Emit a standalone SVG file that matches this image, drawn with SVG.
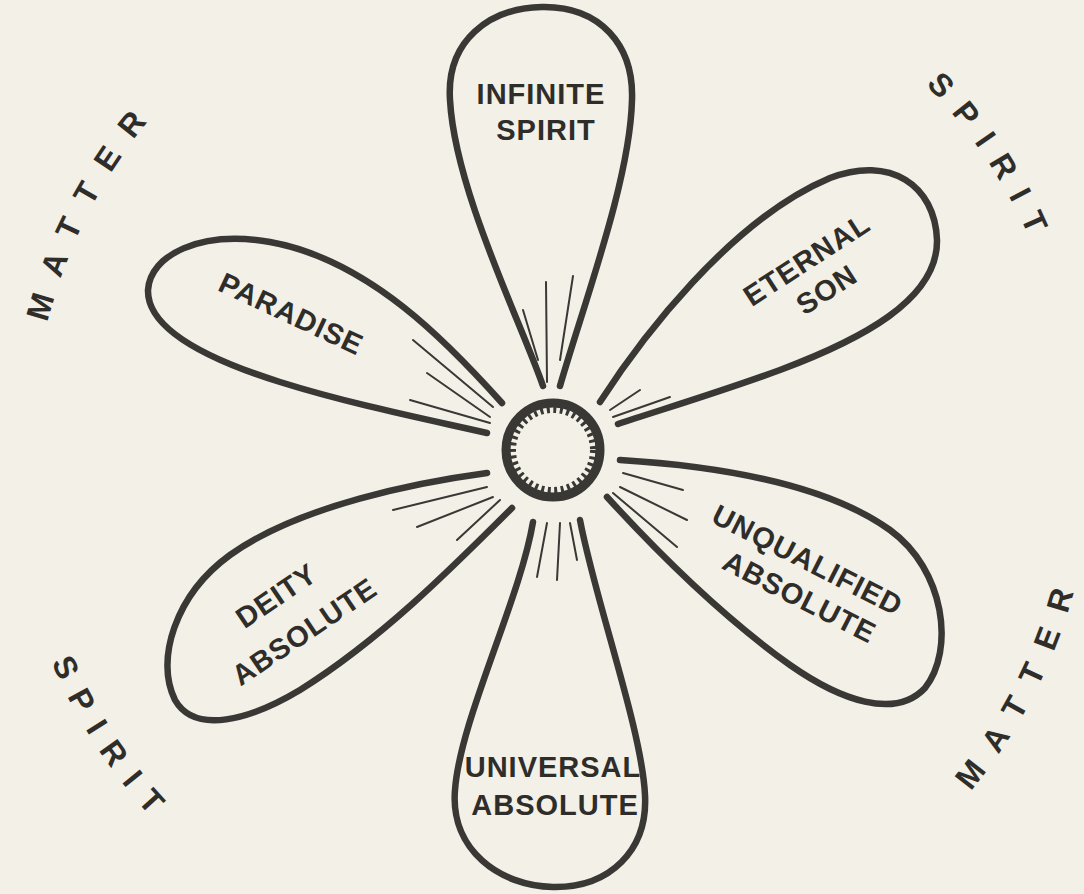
<svg xmlns="http://www.w3.org/2000/svg" width="1084" height="894" viewBox="0 0 1084 894">
<style>
.petal{fill:none;stroke:#3a3834;stroke-width:6.5;stroke-linecap:round;stroke-linejoin:round}
.ray{stroke:#3a3834;stroke-width:2;stroke-linecap:round;fill:none}
.lbl{font-family:"Liberation Sans",Arial,sans-serif;font-size:29px;font-weight:bold;fill:#2f2d29;text-anchor:middle;letter-spacing:1px}
.outer{font-family:"Liberation Sans",Arial,sans-serif;font-size:32px;font-weight:bold;fill:#2f2d29;text-anchor:middle}
</style>
<defs>
<path id="arcMatterUL" d="M 32.5 471.7 A 521 521 0 0 1 273.1 9.6"/>
<path id="arcSpiritUR" d="M 786.3 -16.9 A 521 521 0 0 1 1073.1 418.1"/>
<path id="arcSpiritLL" d="M 9 482.3 A 545 545 0 0 0 309.8 936.7"/>
<path id="arcMatterLR" d="M 855 896.7 A 540 540 0 0 0 1091.7 411.3"/>
</defs>
<rect width="1084" height="894" fill="#f2f0e7"/>

<g id="center">
<circle cx="553" cy="450" r="47" fill="none" stroke="#3a3834" stroke-width="9"/>
<circle cx="553" cy="450" r="40" fill="none" stroke="#3a3834" stroke-width="6" stroke-dasharray="3 3.5"/>
</g>

<g id="connectors">
<line class="ray" x1="546" y1="282" x2="547" y2="382"/>
<line class="ray" x1="573" y1="276" x2="560" y2="360"/>
<line class="ray" x1="523" y1="310" x2="538" y2="360"/>
<line class="ray" x1="413" y1="340" x2="493" y2="407"/>
<line class="ray" x1="427" y1="373" x2="490" y2="417"/>
<line class="ray" x1="410" y1="400" x2="490" y2="423"/>
<line class="ray" x1="640" y1="390" x2="610" y2="410"/>
<line class="ray" x1="670" y1="397" x2="613" y2="417"/>
<line class="ray" x1="623" y1="473" x2="683" y2="490"/>
<line class="ray" x1="620" y1="487" x2="687" y2="520"/>
<line class="ray" x1="613" y1="493" x2="677" y2="547"/>
<line class="ray" x1="393" y1="510" x2="487" y2="487"/>
<line class="ray" x1="417" y1="527" x2="493" y2="497"/>
<line class="ray" x1="457" y1="540" x2="500" y2="500"/>
<line class="ray" x1="547" y1="523" x2="537" y2="577"/>
<line class="ray" x1="560" y1="523" x2="557" y2="580"/>
<line class="ray" x1="570" y1="523" x2="577" y2="560"/>
</g>

<g id="infinite-spirit">
<path class="petal" d="M 543 386 C 520 320, 455 190, 450 100 C 446 40, 490 8, 542 7 C 600 6, 634 45, 632 100 C 630 180, 585 300, 560 386"/>
<text class="lbl" x="541" y="104">INFINITE</text>
<text class="lbl" x="546" y="140">SPIRIT</text>
</g>

<g id="eternal-son">
<path class="petal" d="M 600 402 C 640 340, 730 220, 830 178 C 890 155, 935 185, 937 240 C 938 300, 860 340, 780 370 C 720 392, 660 410, 618 424"/>
<text class="lbl" transform="translate(812 268) rotate(-33)">ETERNAL</text>
<text class="lbl" transform="translate(832 298) rotate(-33)">SON</text>
</g>

<g id="paradise">
<path class="petal" d="M 502 403 C 450 345, 370 260, 270 242 C 200 230, 150 255, 148 290 C 147 330, 210 360, 280 382 C 350 404, 430 420, 487 433"/>
<text class="lbl" transform="translate(287 323) rotate(25)">PARADISE</text>
</g>

<g id="deity-absolute">
<path class="petal" d="M 487 473 C 420 482, 300 505, 230 555 C 175 595, 155 660, 175 700 C 195 735, 250 720, 300 690 C 380 640, 450 570, 512 508"/>
<text class="lbl" transform="translate(282 604) rotate(-34)">DEITY</text>
<text class="lbl" transform="translate(310 640) rotate(-34)">ABSOLUTE</text>
</g>

<g id="unqualified-absolute">
<path class="petal" d="M 620 460 C 700 465, 820 480, 890 530 C 945 570, 955 650, 925 688 C 895 720, 840 700, 790 665 C 720 615, 660 555, 607 497"/>
<text class="lbl" transform="translate(803 569) rotate(27)">UNQUALIFIED</text>
<text class="lbl" transform="translate(795 606) rotate(27)">ABSOLUTE</text>
</g>

<g id="universal-absolute">
<path class="petal" d="M 533 522 C 520 600, 460 720, 455 790 C 450 850, 500 886, 553 887 C 610 888, 648 850, 645 795 C 642 730, 595 600, 580 520"/>
<text class="lbl" x="553" y="777">UNIVERSAL</text>
<text class="lbl" x="555" y="815">ABSOLUTE</text>
</g>

<g id="outer-labels">
<text class="outer" letter-spacing="19"><textPath href="#arcMatterUL" startOffset="50%">MATTER</textPath></text>
<text class="outer" letter-spacing="16"><textPath href="#arcSpiritUR" startOffset="50%">SPIRIT</textPath></text>
<text class="outer" letter-spacing="16"><textPath href="#arcSpiritLL" startOffset="50%">SPIRIT</textPath></text>
<text class="outer" dx="0 19 19 19 19 19"><textPath href="#arcMatterLR" startOffset="270">MATTER</textPath></text>
</g>
</svg>
